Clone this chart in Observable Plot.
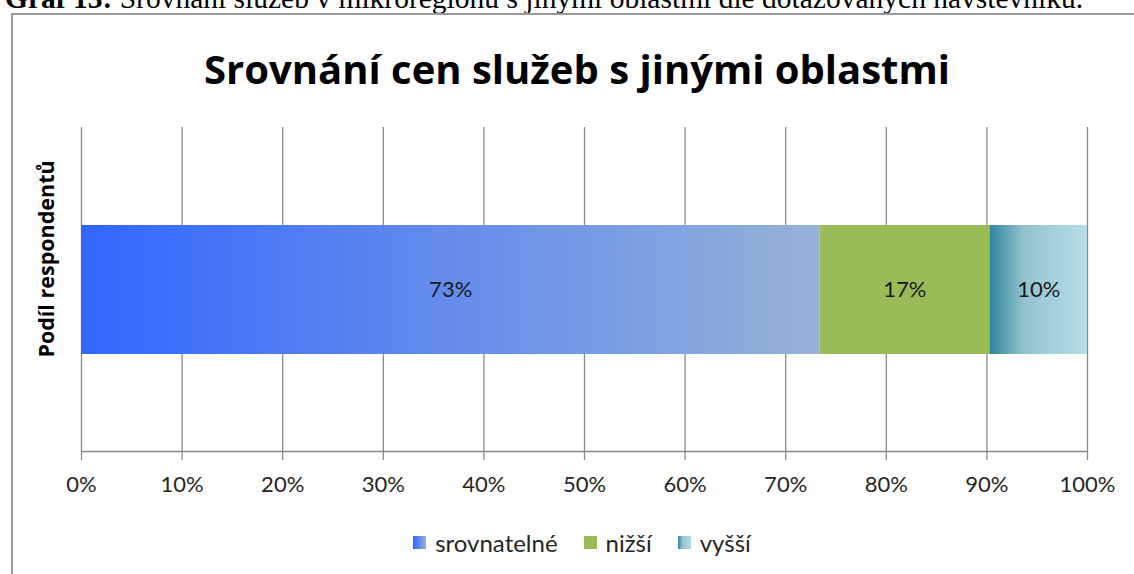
<!DOCTYPE html>
<html>
<head>
<meta charset="utf-8">
<script src="https://cdn.jsdelivr.net/npm/d3@7"></script>
<script src="https://cdn.jsdelivr.net/npm/@observablehq/plot@0.6"></script>
<style>
  html, body { margin: 0; padding: 0; background: #fff; }
  #root { position: relative; width: 1134px; height: 574px; overflow: hidden; background: #fff; font-family: Lato, "Open Sans", sans-serif; }
  #caption { position: absolute; left: 5px; top: -17px; font-family: "Liberation Serif", "DejaVu Serif", serif; font-size: 29.5px; line-height: 30px; white-space: nowrap; color: #000; }
  #frame { position: absolute; left: 11px; top: 13px; width: 1300px; height: 800px; border-left: 2px solid #9a9a9a; border-top: 2px solid #9a9a9a; }
  #title { position: absolute; left: 0; width: 1154px; top: 41px; text-align: center; font-family: "Open Sans", Lato, sans-serif; font-size: 40px; font-weight: bold; color: #000; line-height: 56px; }
  #ylabel { position: absolute; left: 45px; top: 259px; transform: translate(-50%, -50%) rotate(-90deg); font-family: "Open Sans", Lato, sans-serif; font-size: 21.5px; font-weight: bold; white-space: nowrap; color: #000; }
  #chart { position: absolute; left: 0; top: 100px; }
  #legend { position: absolute; top: 528px; left: 15px; width: 1134px; display: flex; justify-content: center; font-size: 24px; color: #262626; }
  .item { display: flex; align-items: center; margin: 0 13px; }
  .sw { width: 13px; height: 13px; margin-right: 9px; }
</style>
</head>
<body>
<div id="root">
  <div id="caption"><b>Graf 13:</b> Srovnání služeb v mikroregionu s jinými oblastmi dle dotazovaných návštěvníků.</div>
  <div id="frame"></div>
  <div id="title">Srovnání cen služeb s jinými oblastmi</div>
  <div id="ylabel">Podíl respondentů</div>
  <div id="chart"></div>
  <div id="legend"></div>
</div>
<script>
// ---- data ----
const category = "Podíl respondentů";
const seriesNames = ["srovnatelné", "nižší", "vyšší"];
const seriesValues = [0.734, 0.169, 0.097];
const seriesLabels = ["73%", "17%", "10%"];
const tickValues = [0, 0.1, 0.2, 0.3, 0.4, 0.5, 0.6, 0.7, 0.8, 0.9, 1];
const tickLabels = ["0%", "10%", "20%", "30%", "40%", "50%", "60%", "70%", "80%", "90%", "100%"];

// ---- styles ----
const gradients = [
  {id: "gBlue", stops: [[0, "#3366ff"], [1, "#95b3d7"]]},
  {id: "gGreen", stops: [[0, "#9bbb59"], [1, "#9bbb59"]]},
  {id: "gTeal", stops: [[0, "#31859c"], [0.35, "#93c3cf"], [1, "#b7dee8"]]}
];

const data = seriesNames.map((name, i) => ({
  cat: category, name, value: seriesValues[i], label: seriesLabels[i],
  fill: `url(#${gradients[i].id})`
}));

const plot = Plot.plot({
  width: 1134,
  height: 420,
  marginLeft: 81,
  marginRight: 47,
  marginTop: 27,
  marginBottom: 69,
  style: {fontFamily: "Lato, 'Open Sans', sans-serif", background: "transparent"},
  x: {domain: [0, 1]},
  y: {domain: [category], paddingInner: 0, paddingOuter: 0.75, axis: null},
  color: {type: "identity"},
  marks: [
    Plot.gridX(tickValues, {stroke: "#8a8a8a", strokeOpacity: 1, strokeWidth: 1.3}),
    Plot.frame({anchor: "bottom", stroke: "#8a8a8a", strokeWidth: 1.3}),
    Plot.axisX(tickValues, {
      tickSize: 9, tickPadding: 16, stroke: "#8a8a8a", strokeWidth: 1.3,
      tickFormat: (d) => tickLabels[tickValues.indexOf(d)],
      fontSize: 22, fill: "#262626", label: null
    }),
    Plot.barX(data, Plot.stackX({x: "value", y: "cat", fill: "fill", order: null})),
    Plot.text(data, Plot.stackX({x: "value", y: "cat", text: "label", order: null, fontSize: 22, fill: "#1a1a1a"}))
  ]
});

// gradient defs
const svg = d3.select(plot);
const defs = svg.insert("defs", ":first-child");
gradients.forEach(g => {
  const lg = defs.append("linearGradient").attr("id", g.id).attr("x1", "0").attr("x2", "1").attr("y1", "0").attr("y2", "0");
  g.stops.forEach(([o, c]) => lg.append("stop").attr("offset", o).attr("stop-color", c));
});
document.getElementById("chart").appendChild(plot);

// legend
const legend = d3.select("#legend");
seriesNames.forEach((name, i) => {
  const it = legend.append("div").attr("class", "item");
  const st = gradients[i].stops.map(([o, c]) => `${c} ${o * 100}%`).join(", ");
  it.append("div").attr("class", "sw").style("background", `linear-gradient(to right, ${st})`);
  it.append("span").text(name);
});
</script>
</body>
</html>
